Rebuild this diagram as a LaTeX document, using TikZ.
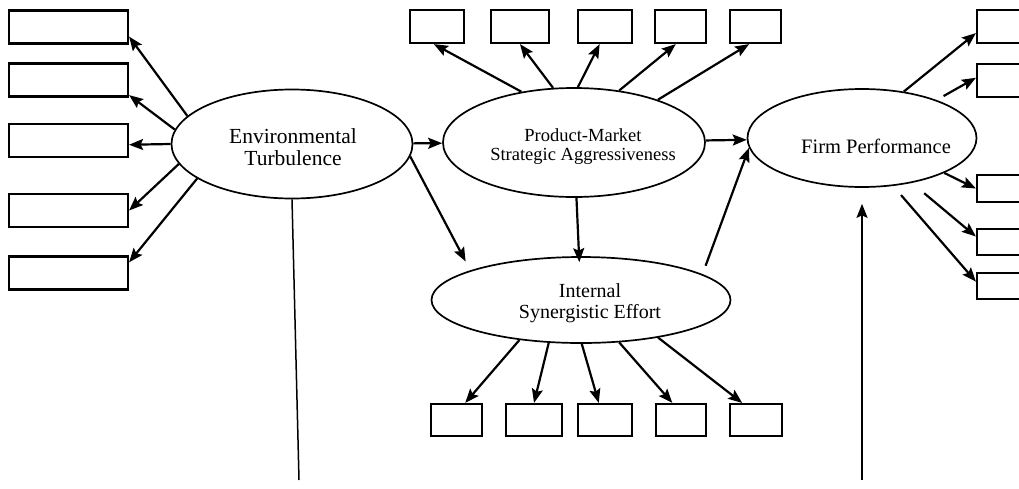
\documentclass[tikz,border=0pt]{standalone}
\usepackage{fontspec}
\setmainfont{Liberation Serif}
\usetikzlibrary{arrows.meta,shapes.geometric}

\begin{document}
\begin{tikzpicture}[x=1pt, y=-1pt, line width=2.2pt,
    >={Stealth[length=14pt, width=11pt, inset=2.5pt]},
    latent/.style={ellipse, draw, line width=1.7pt, inner sep=0pt},
    caption/.style={font=\fontsize{20}{21}\selectfont, align=center},
    indicator/.style={rectangle, draw, line width=2.2pt, inner sep=0pt, minimum height=33pt}]

    \clip (0,0) rectangle (1019,488);

    % Constructs
    \node [latent, minimum width=241pt, minimum height=109pt,
           label={[caption, font=\fontsize{21.5}{22.5}\selectfont, xshift=1pt, yshift=-3pt]center:Environmental\\Turbulence}] (et) at (292,144) {};
    \node [latent, minimum width=262pt, minimum height=109pt,
           label={[caption, font=\fontsize{18.5}{19.5}\selectfont, xshift=9pt, yshift=-4pt]center:Product-Market\\Strategic Aggressiveness}] (pm) at (574,142.5) {};
    \node [latent, minimum width=229pt, minimum height=98pt,
           label={[caption, font=\fontsize{20.5}{21.5}\selectfont, xshift=14pt, yshift=-8pt]center:Firm Performance}] (fp) at (862,138) {};
    \node [latent, minimum width=299pt, minimum height=86pt,
           label={[caption, xshift=9pt, yshift=-3pt]center:Internal\\Synergistic Effort}] (ise) at (581,300) {};

    % Indicators {l1..l5, t1..t5, r1..r5, b1..b5}
    \node [indicator, minimum width=119pt]  (l1) at (68.5,27)    {};
    \node [indicator, minimum width=119pt]  (l2) at (68.5,80)    {};
    \node [indicator, minimum width=119pt]  (l3) at (68.5,140.5) {};
    \node [indicator, minimum width=119pt]  (l4) at (68.5,210.5) {};
    \node [indicator, minimum width=119pt]  (l5) at (68.5,273)   {};

    \node [indicator, minimum width=54pt]   (t1) at (437,26.5)   {};
    \node [indicator, minimum width=58pt]   (t2) at (520,26.5)   {};
    \node [indicator, minimum width=54pt]   (t3) at (605,26.5)   {};
    \node [indicator, minimum width=51pt]   (t4) at (680.5,26.5) {};
    \node [indicator, minimum width=51pt]   (t5) at (755.5,26.5) {};

    \node [indicator, minimum width=60pt]                       (r1) at (1007,26.5)  {};
    \node [indicator, minimum width=60pt]                       (r2) at (1007,80.5)  {};
    \node [indicator, minimum width=60pt, minimum height=27pt]  (r3) at (1007,188.5) {};
    \node [indicator, minimum width=60pt, minimum height=26pt]  (r4) at (1007,242)   {};
    \node [indicator, minimum width=60pt, minimum height=26pt]  (r5) at (1007,286)   {};

    \node [indicator, minimum width=51pt, minimum height=32pt]  (b1) at (456.5,420)  {};
    \node [indicator, minimum width=56pt, minimum height=32pt]  (b2) at (534,420)    {};
    \node [indicator, minimum width=54pt, minimum height=32pt]  (b3) at (605,420)    {};
    \node [indicator, minimum width=50pt, minimum height=32pt]  (b4) at (681,420)    {};
    \node [indicator, minimum width=52pt, minimum height=32pt]  (b5) at (756,420)    {};

    \coordinate (etend) at (299,480);
    \coordinate (fpsrc) at (862,480);

    % Loadings
    \path [->]  (et.165)  edge  (l1.-9);
    \path [->]  (et.173)  edge  (l2.-14);
    \path [->]  (et.180)  edge  (l3.-4);
    \path [->]  (et.190)  edge  (l4.east);
    \path [->]  (et.200)  edge  (l5.10);

    \path [->]  (pm.136)  edge  (t1.-100);
    \path [->]  (pm.111)  edge  (t2.south);
    \path [->]  (pm.86)   edge  (t3.-107);
    \path [->]  (pm.49)   edge  (t4.-105);
    \path [->]  (pm.27)   edge  (t5.-110);

    \path [->]  (fp.48)   edge                      (r1.192);
    \path [->]  (fp.27)   edge [shorten <=8pt]      (r2.175);
    \path [->]  (fp.-23)  edge                      (r3.west);
    \path [->]  (fp.-42)  edge [shorten <=16pt]     (r4.170);
    \path [->]  (fp.-57)  edge [shorten <=12pt]     (r5.172);

    \path [->]  (ise.213) edge  (b1.63);
    \path [->]  (ise.233) edge  (b2.north);
    \path [->]  (ise.271) edge  (b3.110);
    \path [->]  (ise.-48) edge  (b4.117);
    \path [->]  (ise.-26) edge  (b5.129);

    % Structural paths
    \path [->]  (et)      edge                      (pm);
    \path [->]  (pm)      edge                      (fp);
    \path [->]  (et.-6)   edge [shorten >=10pt]     (ise.165);
    \path [->]  (pm)      edge [shorten >=-6pt]     (ise);
    \path [->]  (ise.12)  edge [shorten <=9pt]      (fp.185);

    % Outside influences
    \draw [line width=1.5pt]                      (et.south) -- (etend);
    \draw [->, line width=1.8pt, shorten >=16pt]  (fpsrc)    -- (fp.south);

\end{tikzpicture}
\end{document}
